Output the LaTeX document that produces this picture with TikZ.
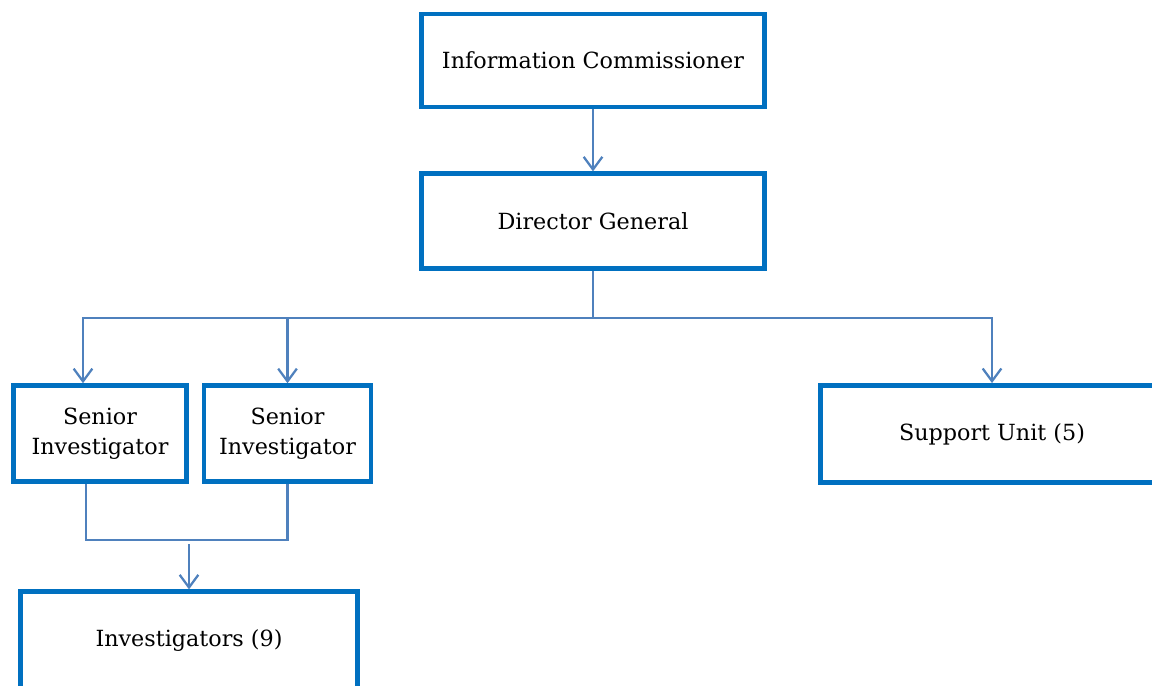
\documentclass[tikz,border=0pt]{standalone}
\usepackage{fontspec}
\setmainfont{DejaVu Serif}
\definecolor{boxblue}{RGB}{0, 112, 192}
\definecolor{linkblue}{RGB}{79, 129, 189}
\usetikzlibrary{arrows.meta, positioning, calc}

\begin{document}
\begin{tikzpicture}[x=0.75pt, y=-0.75pt,
	orgbox/.style={draw=boxblue, line width=3.4pt, fill=white, align=center,
		font=\fontsize{16.7}{22.5}\selectfont, inner sep=0pt},
	link/.style={draw=linkblue, line width=1.7pt},
	linkarrow/.style={link, -{Straight Barb[length=9.5pt, width=14pt, line width=1.7pt]}}]
	\useasboundingbox (0,0) rectangle (1152,685);
	\clip (0,0) rectangle (1152,685);
	% top of the chart
	\node[orgbox, minimum width=257pt, minimum height=70pt] (commissioner) at (593,60.5) {Information Commissioner};
	\node[orgbox, minimum width=257pt, minimum height=71pt] (director) at (593,221) {Director General};
	% middle row
	\node[orgbox, minimum width=130pt, minimum height=72pt] (senior1) at (100,433.5) {Senior\\Investigator};
	\node[orgbox, minimum width=125pt, minimum height=72pt] (senior2) at (287.5,433.5) {Senior\\Investigator};
	\node[orgbox, minimum width=257pt, minimum height=73pt] (support) at (992,434) {Support Unit (5)};
	% bottom row
	\node[orgbox, minimum width=253pt, minimum height=74pt] (investigators) at (189,641) {Investigators (9)};
	% connectors
	\coordinate (bus) at (593,318);
	\coordinate (join) at (189,540);
	\draw[linkarrow] (commissioner) -- (director);
	\draw[link] (director) -- (bus);
	\draw[linkarrow] (bus) -| ([xshift=-12.75pt]senior1.north);
	\draw[linkarrow] (bus) -| (senior2.north);
	\draw[linkarrow] (bus) -| (support.north);
	\draw[link] ([xshift=-10.5pt]senior1.south) |- (join) -| (senior2.south);
	\draw[linkarrow] ([yshift=-3pt]join) -- (investigators);
\end{tikzpicture}
\end{document}
